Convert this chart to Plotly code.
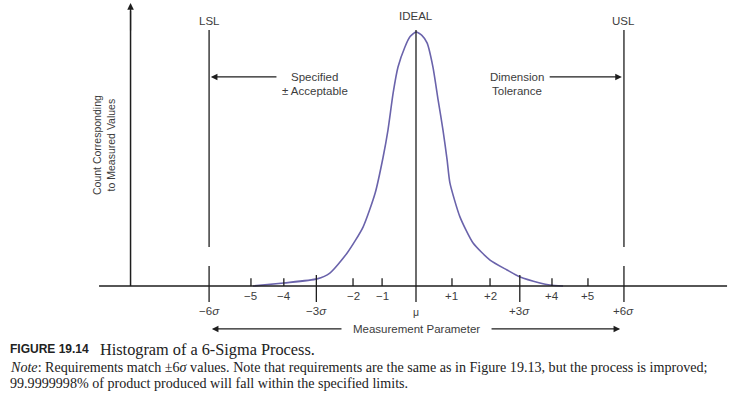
import plotly.graph_objects as go

# ---- data (x in sigma units, y = relative count, peak = 100) ----
curve_x = [-4.71, -3.82, -2.86, -2.49, -1.99, -1.53, -1.18, -0.95, -0.81, -0.66, -0.52, -0.32, -0.17, 0.0,
           0.17, 0.32, 0.49, 0.64, 0.78, 0.90, 0.98, 1.27, 1.65, 2.14, 2.63, 3.01, 3.58, 3.87, 4.25]
curve_y = [0.0, 1.2, 2.8, 5.1, 13.0, 23.2, 36.6, 50.8, 61.4, 76.0, 86.2, 94.1, 98.2, 100.0,
           98.7, 95.7, 86.2, 73.2, 61.4, 49.6, 40.6, 27.2, 16.9, 10.2, 6.3, 3.5, 1.2, 0.4, 0.0]

minor_tick_pos = [-4.77, -3.82, -1.82, -0.98, 1.04, 2.14, 3.93, 4.97]
minor_tick_labels = ["\u22125", "\u22124", "\u22122", "\u22121", "+1", "+2", "+4", "+5"]
sigma_tick_pos = [-5.98, -2.88, 3.0, 6.01]
sigma_tick_labels = ["\u22126<i>\u03c3</i>", "\u22123<i>\u03c3</i>", "+3<i>\u03c3</i>", "+6<i>\u03c3</i>"]
spec_limits = {"LSL": -5.98, "IDEAL": 0.0, "USL": 6.01}

# ---- layout constants ----
W, H = 734, 394
SX = 34.6  # px per sigma
SY = 2.54  # px per count unit
X0PX, Y0PX = 416, 286
xr = [-X0PX / SX, (W - X0PX) / SX]
yr = [-(H - Y0PX) / SY, Y0PX / SY]

LINE = "#1e1e1e"
TXT = "#3c3c3c"
SANS = "Liberation Sans, Arial, sans-serif"
SERIF = "Liberation Serif, Times New Roman, serif"

fig = go.Figure()
fig.add_trace(go.Scatter(x=curve_x, y=curve_y, mode="lines",
                         line=dict(color="#6a63ab", width=1.6, shape="spline", smoothing=0.6),
                         hoverinfo="skip", showlegend=False))

shapes = []
def seg(x0, y0, x1, y1, w=1.3):
    shapes.append(dict(type="line", x0=x0, y0=y0, x1=x1, y1=y1, xref="x", yref="y",
                       line=dict(color=LINE, width=w)))

# baseline and vertical axis
y_axis_x = -8.25
seg(-9.16, 0, 8.99, 0, 1.5)
seg(y_axis_x, 0, y_axis_x, 108.5, 1.5)

# minor ticks
for p in minor_tick_pos:
    seg(p, 0, p, 3.1)
# sigma ticks
for p in sigma_tick_pos:
    if abs(p) > 5:
        seg(p, 7.9, p, -6.3)
    else:
        seg(p, 4.3, p, -6.3)

# spec lines
seg(spec_limits["LSL"], 100.8, spec_limits["LSL"], 15.4)
seg(spec_limits["USL"], 100.8, spec_limits["USL"], 15.4)
seg(spec_limits["IDEAL"], 100.8, spec_limits["IDEAL"], -6.3)

ann = []
def txt(x, y, s, size=11.5, font=SANS, xanchor="center", **kw):
    ann.append(dict(x=x, y=y, xref="x", yref="y", text=s, showarrow=False,
                    font=dict(family=font, size=size, color=TXT), xanchor=xanchor,
                    yanchor="middle", **kw))

def arrow(xh, yh, xt, yt):
    ann.append(dict(x=xh, y=yh, ax=xt, ay=yt, xref="x", yref="y", axref="x", ayref="y",
                    text="", showarrow=True, arrowhead=2, arrowsize=1.1, arrowwidth=1.2,
                    arrowcolor=LINE))

# y axis arrow head
arrow(y_axis_x, 111.4, y_axis_x, 100)

for p, l in zip(minor_tick_pos, minor_tick_labels):
    txt(p, -3.9, l)
for p, l in zip(sigma_tick_pos, sigma_tick_labels):
    txt(p, -9.8, l)
txt(0, -10.3, "\u03bc", size=10.5)

txt(spec_limits["LSL"], 104.3, "LSL")
txt(spec_limits["IDEAL"], 106.3, "IDEAL")
txt(spec_limits["USL"], 104.3, "USL")

txt(-2.92, 82.3, "Specified")
txt(-2.92, 76.8, "\u00b1 Acceptable")
arrow(-5.93, 82.3, -3.99, 82.3)
txt(2.92, 82.3, "Dimension")
txt(2.92, 76.8, "Tolerance")
arrow(5.95, 82.3, 3.82, 82.3)

txt(0, -16.9, "Measurement Parameter")
arrow(-5.9, -16.9, -2.11, -16.9)
arrow(5.9, -16.9, 2.14, -16.9)

txt((104 - X0PX) / SX, (Y0PX - 145) / SY, "Count Corresponding<br>to Measured Values",
    size=10.5, textangle=-90)

# caption
def ptxt(xpx, ypx, s, size, font):
    ann.append(dict(x=xpx / W, y=1 - ypx / H, xref="paper", yref="paper", text=s,
                    showarrow=False, xanchor="left", yanchor="middle", align="left",
                    font=dict(family=font, size=size, color="#222222")))

ptxt(8, 349, "<b>FIGURE 19.14</b>", 12, SANS)
ptxt(98, 349, "Histogram of a 6-Sigma Process.", 16.3, SERIF)
ptxt(8, 367, "<i>Note</i>: Requirements match \u00b16<i>\u03c3</i> values. Note that requirements are the same as in Figure 19.13, but the process is improved;", 14.1, SERIF)
ptxt(8, 383, "99.9999998% of product produced will fall within the specified limits.", 14.1, SERIF)

fig.update_layout(width=W, height=H, margin=dict(l=0, r=0, t=0, b=0),
                  paper_bgcolor="white", plot_bgcolor="white",
                  xaxis=dict(range=xr, visible=False, fixedrange=True),
                  yaxis=dict(range=yr, visible=False, fixedrange=True),
                  shapes=shapes, annotations=ann)

fig.write_html("out.html", config={"displayModeBar": False},
               post_script="document.body.style.margin='0px';document.body.style.overflow='hidden';")
